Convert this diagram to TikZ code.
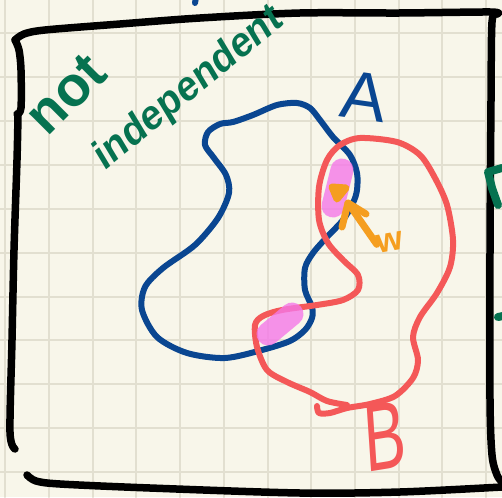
\documentclass[tikz,border=0pt]{standalone}
\usepackage{fontspec}
\setmainfont{Liberation Sans}
\definecolor{paper}{RGB}{248,246,234}
\definecolor{gridc}{RGB}{226,223,208}
\definecolor{inkgreen}{RGB}{6,114,80}
\definecolor{inkblue}{RGB}{10,70,145}
\definecolor{inkred}{RGB}{244,88,88}
\definecolor{inkpink}{RGB}{245,120,232}
\definecolor{inkorange}{RGB}{245,158,32}
\tikzset{
  gridline/.style={draw=gridc,line width=2pt},
  frameline/.style={draw=black,line width=7.5pt},
  blueline/.style={draw=inkblue,line width=6pt},
  redline/.style={draw=inkred,line width=6pt},
  highlight/.style={draw=inkpink,line width=23pt,opacity=0.8},
  orangeline/.style={draw=inkorange,line width=7pt},
  greenline/.style={draw=inkgreen,line width=8pt},
  greentext/.style={text=inkgreen,font=\bfseries\fontsize{40}{40}\selectfont,inner sep=0pt},
}
\begin{document}
\begin{tikzpicture}[x=1pt,y=-1pt,line cap=round,line join=round]
\useasboundingbox (0,0) rectangle (502,497);
\fill[paper] (0,0) rectangle (502,497);
% grid
\foreach \i in {0,...,11} \draw[gridline] ({5.3+43.7*\i},0) -- ++(0,497);
\foreach \i in {0,...,10} \draw[gridline] (0,{33.5+43.85*\i}) -- ++(502,0);
% frame
\draw[frameline] plot[smooth] coordinates {(15,40) (24,34) (45,30) (120,24) (200,18) (300,13) (400,13) (490,12) (497,14)};
\draw[frameline] plot[smooth] coordinates {(497,14) (492,22) (491,100) (490,250) (490,400) (492,455) (497,475) (502,482)};
\draw[frameline] plot[smooth] coordinates {(15,40) (19,50) (21,70) (21,108) (17,114)};
\draw[frameline] plot[smooth] coordinates {(18,116) (17,160) (14,250) (12,340) (10,432) (15,449)};
\draw[frameline] plot[smooth] coordinates {(27,475) (36,481) (60,484) (150,488) (300,493) (400,492) (502,487)};
% set A
\draw[blueline] plot[smooth cycle] coordinates {
 (233,122) (253,115) (277,105) (297,103) (310,108) (320,120) (333,137) (350,155)
 (357,173) (357,190) (353,203) (343,220) (327,237) (313,253) (305,268) (305,290)
 (312,307) (312,318) (305,330) (290,341) (262,350) (225,358) (187,353) (157,337)
 (142,310) (145,287) (163,268) (195,245) (218,218) (229,193) (226,175) (214,158)
 (205,145) (208,132) (220,124)};
% set B
\draw[redline] plot[smooth] coordinates {
 (347,405) (327,401) (310,392) (287,382) (267,370) (257,347) (255,325) (263,316)
 (282,310) (317,305) (343,300) (358,290) (358,275) (343,260) (328,243) (319,220)
 (319,187) (327,160) (340,145) (360,138) (397,142) (420,155) (435,178) (447,205)
 (453,240) (450,267) (437,293) (420,317) (413,337) (418,360) (413,378) (395,396)
 (370,404) (347,408) (330,413) (319,413) (317,406)};
% highlights
\draw[highlight] (342,170) -- (333,206);
\draw[highlight] (292,314) -- (268,334);
% point w
\filldraw[orangeline,fill=inkorange] (332,187) -- (346,188) -- (337,199) -- cycle;
\coordinate (tip) at (348,203);
\node[text=inkorange,font=\bfseries\fontsize{34}{34}\selectfont,inner sep=0pt,rotate=10] (w) at (390,242) {w};
\draw[orangeline] (w.west) -- (tip);
\draw[orangeline] (342,227) -- (tip) -- (366,214);
% labels
\node[text=inkblue,font=\fontsize{68}{68}\selectfont,inner sep=0pt,rotate=-8] (A) at (364,96) {A};
\node[text=inkred,font=\fontsize{96}{96}\selectfont,inner sep=0pt,xscale=0.65,rotate=6] (B) at (385,436) {B};
% green text
\node[greentext,font=\bfseries\fontsize{56}{56}\selectfont,rotate=45] (not) at (66,94) {not};
\node[greentext,font=\bfseries\fontsize{43}{43}\selectfont,xscale=0.86,rotate=35] (indep) at (189,89) {independent};
% fragments cut off at the edges
\draw[greenline] (502,168) -- (488,172) -- (492,188) -- (498,205);
\draw[greenline] (498,317) -- (503,316);
\draw[blueline] (196,-3) -- (195,3);
\end{tikzpicture}
\end{document}
